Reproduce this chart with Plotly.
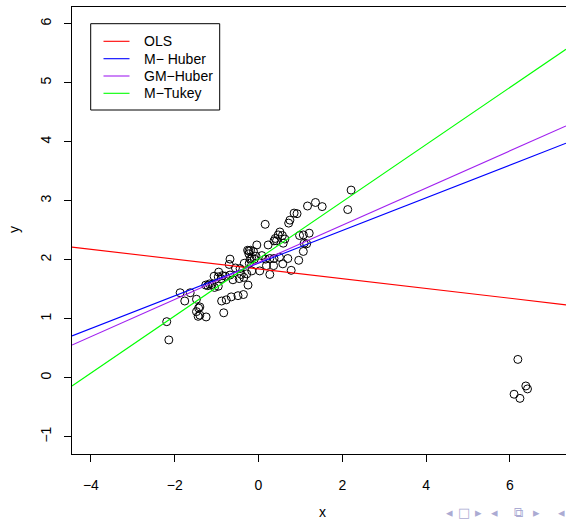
import plotly.graph_objects as go

# Observed sample (x, y), including the five outlying points near x = 6
x_obs = [2.21, 2.13, 1.36, 1.52, 1.17, 0.85, 0.92, 0.16, 0.75, 0.72,
         0.51, 0.47, 0.40, 0.37, 0.43, 0.57, 0.63, 0.59, 0.98, 1.07,
         1.21, 1.09, 1.15, -0.04, 0.23, -0.26, -0.23, -0.19, -0.12, -0.23,
         -0.06, -0.16, -0.10, 0.08, -0.68, -0.70, -0.55, -0.34, -0.22, -0.20,
         0.17, 0.27, 0.37, 0.50, 0.70, 0.96, 1.07, 0.19, 0.36, 0.58,
         0.78, 0.27, 0.03, -0.16, -0.44, -0.41, -0.35, -0.28, -0.46, -0.61,
         -0.25, -0.68, -0.79, -0.95, -1.06, -0.96, -0.89, -0.86, -1.26, -1.21,
         -1.17, -1.11, -1.05, -0.96, -1.63, -1.87, -1.76, -1.48, -0.36, -0.49,
         -0.65, -0.77, -0.88, -1.40, -1.43, -1.48, -1.40, -1.44, -1.25, -0.83,
         -2.19, -2.14,
         6.19, 6.38, 6.42, 6.10, 6.24]
y_obs = [3.18, 2.85, 2.97, 2.90, 2.91, 2.79, 2.78, 2.60, 2.67, 2.62,
         2.47, 2.42, 2.36, 2.32, 2.32, 2.41, 2.35, 2.28, 2.41, 2.42,
         2.45, 2.28, 2.27, 2.25, 2.25, 2.16, 2.15, 2.16, 2.14, 2.10,
         2.06, 2.02, 2.01, 2.07, 2.01, 1.92, 1.86, 1.94, 1.94, 2.01,
         2.01, 2.02, 2.02, 2.04, 2.02, 1.99, 2.14, 1.90, 1.90, 1.93,
         1.82, 1.75, 1.81, 1.81, 1.85, 1.75, 1.70, 1.76, 1.68, 1.66,
         1.57, 1.74, 1.72, 1.79, 1.72, 1.71, 1.68, 1.73, 1.57, 1.56,
         1.59, 1.58, 1.53, 1.55, 1.44, 1.44, 1.30, 1.33, 1.41, 1.39,
         1.37, 1.32, 1.30, 1.20, 1.18, 1.12, 1.06, 1.04, 1.03, 1.10,
         0.95, 0.64,
         0.31, -0.14, -0.19, -0.28, -0.35]

# Fitted regression lines: intercept and slope of each estimator
fit_names = ["OLS", "M\u2212 Huber", "GM\u2212Huber", "M\u2212Tukey"]
fit_intercepts = [1.844, 1.941, 1.955, 2.015]
fit_slopes = [-0.083, 0.277, 0.315, 0.484]
fit_colors = ["#FF0000", "#0000FF", "#A020F0", "#00FF00"]

x_ticks = [-4, -2, 0, 2, 4, 6]
y_ticks = [-1, 0, 1, 2, 3, 4, 5, 6]

X_RANGE = [-4.451, 7.339]
Y_RANGE = [-1.293, 6.283]

FONT = "Liberation Sans, Arial, sans-serif"
W, H = 566, 521
ML, MR, MT, MB = 72, 0, 7, 67
PW, PH = W - ML - MR, H - MT - MB

fig = go.Figure()

fig.add_trace(go.Scatter(
    x=x_obs, y=y_obs, mode="markers",
    marker=dict(symbol="circle-open", size=8, color="black",
                line=dict(width=1, color="black")),
    showlegend=False, hoverinfo="x+y",
))

# abline-style lines spanning the whole plotting region
for name, a, b, col in zip(fit_names, fit_intercepts, fit_slopes, fit_colors):
    xs = [X_RANGE[0], X_RANGE[1]]
    ys = [a + b * v for v in xs]
    fig.add_trace(go.Scatter(x=xs, y=ys, mode="lines", name=name,
                             line=dict(color=col, width=1.1),
                             showlegend=False))


def px_x(p):
    return (p - ML) / PW


def px_y(p):
    return (H - MB - p) / PH


shapes = []
annotations = []

# Legend box with line samples
shapes.append(dict(type="rect", xref="paper", yref="paper",
                   x0=px_x(90.7), x1=px_x(219.7), y0=px_y(110), y1=px_y(23.7),
                   line=dict(color="black", width=1), fillcolor="white",
                   layer="above"))
row_y = [41.3, 58.7, 76.0, 93.3]
for name, col, ry in zip(fit_names, fit_colors, row_y):
    shapes.append(dict(type="line", xref="paper", yref="paper",
                       x0=px_x(103.5), x1=px_x(129.5), y0=px_y(ry), y1=px_y(ry),
                       line=dict(color=col, width=1.1), layer="above"))
    annotations.append(dict(xref="paper", yref="paper", x=px_x(141.5),
                            y=px_y(ry), text=name, showarrow=False,
                            xanchor="left", yanchor="middle",
                            font=dict(family=FONT, size=14, color="black")))

# Axis titles
annotations.append(dict(xref="paper", yref="paper", x=px_x(322), y=px_y(512),
                        text="x", showarrow=False, xanchor="center",
                        yanchor="middle",
                        font=dict(family=FONT, size=14, color="black")))
annotations.append(dict(xref="paper", yref="paper", x=px_x(14), y=px_y(230),
                        text="y", showarrow=False, xanchor="center",
                        yanchor="middle", textangle=-90,
                        font=dict(family=FONT, size=14, color="black")))

# Slide navigation symbols
nav = [("\u25C2", 449), ("\u25A1", 464), ("\u25B8", 478),
       ("\u25C2", 494), ("\u29C9", 518), ("\u25B8", 536),
       ("\u25C2", 561)]
for sym, xp in nav:
    annotations.append(dict(xref="paper", yref="paper", x=px_x(xp),
                            y=px_y(512), text=sym, showarrow=False,
                            xanchor="center", yanchor="middle",
                            font=dict(family="DejaVu Sans", size=13,
                                      color="#ABABD3")))

fig.update_layout(
    width=W, height=H,
    margin=dict(l=ML, r=MR, t=MT, b=MB, pad=0),
    paper_bgcolor="white", plot_bgcolor="white",
    font=dict(family=FONT, size=14, color="black"),
    shapes=shapes, annotations=annotations,
    showlegend=False,
)
fig.update_xaxes(range=X_RANGE, tickvals=x_ticks,
                 ticktext=[str(v).replace("-", "\u2212") for v in x_ticks],
                 ticks="outside", ticklen=7, tickwidth=1, tickcolor="black",
                 showgrid=False, zeroline=False,
                 showline=True, linecolor="black", linewidth=1, mirror=True,
                 ticklabelstandoff=11,
                 tickfont=dict(family=FONT, size=14, color="black"))
fig.update_yaxes(range=Y_RANGE, tickvals=y_ticks,
                 ticktext=[str(v).replace("-", "\u2212") for v in y_ticks],
                 ticks="outside", ticklen=7, tickwidth=1, tickcolor="black",
                 showgrid=False, zeroline=False, tickangle=-90,
                 showline=True, linecolor="black", linewidth=1, mirror=False,
                 ticklabelstandoff=7,
                 tickfont=dict(family=FONT, size=14, color="black"))

fig.write_html("out.html")
